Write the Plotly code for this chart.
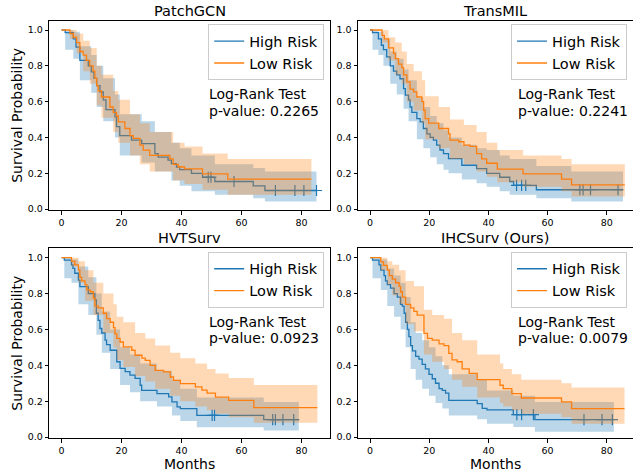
import plotly.graph_objects as go

# ---------------- data (months, survival probability) ----------------
titles = ["PatchGCN", "TransMIL", "HVTSurv", "IHCSurv (Ours)"]
p_values = ["0.2265", "0.2241", "0.0923", "0.0079"]
series_names = ["High Risk", "Low Risk"]
x_ticks = [0, 20, 40, 60, 80]
y_ticks = [0.0, 0.2, 0.4, 0.6, 0.8, 1.0]

# PatchGCN
pg_high_t = [0, 1.2, 3.9, 4.8, 6.1, 8.9, 9.9, 10.8, 11.7, 12.8, 13.9, 14.8, 17.8, 18.3, 19.4, 23.3, 26.7, 31.1, 32.2, 35.5, 36.6, 38.3, 39.4, 43.3, 47.0, 51.1, 63.9, 67.8, 85.0]
pg_high_s = [1.0, 0.985, 0.95, 0.905, 0.83, 0.80, 0.766, 0.73, 0.69, 0.654, 0.61, 0.555, 0.515, 0.46, 0.41, 0.385, 0.366, 0.31, 0.29, 0.273, 0.254, 0.235, 0.22, 0.20, 0.178, 0.154, 0.13, 0.104, 0.104]
pg_high_band_t = [0, 1.2, 3.9, 6.1, 9.9, 11.7, 13.9, 17.8, 19.4, 26.7, 31.1, 36.6, 39.4, 43.3, 51.1, 63.9, 67.8, 85.0]
pg_high_lo = [1.0, 0.89, 0.84, 0.72, 0.65, 0.57, 0.49, 0.40, 0.30, 0.26, 0.21, 0.16, 0.13, 0.10, 0.08, 0.06, 0.043, 0.043]
pg_high_up = [1.0, 1.0, 0.99, 0.91, 0.86, 0.80, 0.73, 0.64, 0.53, 0.49, 0.43, 0.37, 0.34, 0.30, 0.25, 0.23, 0.21, 0.21]
pg_high_cens = [48.9, 49.8, 57.5, 71.3, 77.8, 80.8, 85.0]
pg_low_t = [0, 2.8, 3.9, 5.0, 6.1, 7.2, 8.3, 9.4, 10.5, 11.1, 11.7, 12.2, 13.3, 16.1, 17.2, 18.3, 18.9, 21.1, 22.8, 23.9, 26.1, 27.2, 29.4, 36.1, 37.2, 38.9, 41.0, 47.0, 55.4, 83.3]
pg_low_s = [1.0, 0.98, 0.96, 0.93, 0.88, 0.86, 0.83, 0.80, 0.77, 0.73, 0.69, 0.66, 0.626, 0.57, 0.54, 0.52, 0.487, 0.45, 0.41, 0.395, 0.357, 0.329, 0.30, 0.28, 0.25, 0.235, 0.225, 0.197, 0.167, 0.167]
pg_low_band_t = [0, 2.8, 5.0, 7.2, 9.4, 11.7, 13.3, 17.2, 18.9, 22.8, 26.1, 29.4, 37.2, 41.0, 47.0, 55.4, 83.3]
pg_low_lo = [1.0, 0.95, 0.87, 0.77, 0.70, 0.58, 0.51, 0.43, 0.37, 0.30, 0.25, 0.21, 0.16, 0.14, 0.108, 0.08, 0.08]
pg_low_up = [1.0, 1.0, 0.98, 0.94, 0.90, 0.80, 0.75, 0.66, 0.61, 0.53, 0.48, 0.43, 0.37, 0.35, 0.31, 0.28, 0.28]
pg_low_cens = []

# TransMIL
tm_high_t = [0, 0.8, 2.8, 3.8, 4.5, 5.6, 6.8, 7.9, 9.0, 10.1, 11.3, 11.9, 13.0, 13.5, 14.1, 15.8, 16.9, 18.0, 19.2, 20.3, 21.4, 22.5, 23.6, 24.8, 26.5, 31.0, 36.0, 39.4, 43.8, 47.2, 48.5, 56.2, 85.5]
tm_high_s = [1.0, 0.985, 0.95, 0.915, 0.89, 0.85, 0.80, 0.77, 0.75, 0.728, 0.673, 0.636, 0.61, 0.57, 0.54, 0.505, 0.487, 0.45, 0.42, 0.40, 0.385, 0.357, 0.33, 0.31, 0.282, 0.245, 0.226, 0.20, 0.178, 0.154, 0.132, 0.108, 0.108]
tm_high_band_t = [0, 0.8, 2.8, 4.5, 6.8, 9.0, 11.3, 13.0, 15.8, 18.0, 20.3, 22.5, 24.8, 26.5, 31.0, 36.0, 39.4, 43.8, 47.2, 56.2, 68.0, 85.5]
tm_high_lo = [1.0, 0.89, 0.86, 0.80, 0.70, 0.64, 0.56, 0.49, 0.39, 0.34, 0.29, 0.25, 0.22, 0.20, 0.165, 0.145, 0.125, 0.10, 0.08, 0.06, 0.043, 0.043]
tm_high_up = [1.0, 1.0, 0.99, 0.95, 0.88, 0.84, 0.78, 0.72, 0.62, 0.57, 0.52, 0.48, 0.44, 0.40, 0.36, 0.34, 0.33, 0.30, 0.28, 0.24, 0.21, 0.21]
tm_high_cens = [49.5, 51.2, 52.6, 70.9, 72.0, 74.5, 83.8]
tm_low_t = [0, 4.0, 4.8, 6.2, 7.9, 8.5, 9.6, 10.7, 11.3, 12.4, 13.5, 14.7, 15.8, 17.5, 18.1, 18.6, 19.8, 23.2, 26.5, 27.0, 30.0, 31.7, 33.8, 36.0, 37.7, 39.4, 43.0, 51.7, 64.7, 68.1, 86.1]
tm_low_s = [1.0, 0.97, 0.95, 0.90, 0.87, 0.84, 0.81, 0.79, 0.75, 0.71, 0.67, 0.655, 0.626, 0.60, 0.552, 0.505, 0.48, 0.45, 0.42, 0.385, 0.376, 0.357, 0.35, 0.31, 0.28, 0.256, 0.223, 0.197, 0.167, 0.135, 0.135]
tm_low_band_t = [0, 4.0, 6.2, 8.5, 10.7, 12.4, 14.7, 17.5, 18.6, 23.2, 27.0, 31.7, 36.0, 39.4, 43.0, 51.7, 64.7, 68.1, 86.1]
tm_low_lo = [1.0, 0.93, 0.83, 0.75, 0.70, 0.60, 0.55, 0.48, 0.39, 0.34, 0.28, 0.25, 0.21, 0.18, 0.15, 0.125, 0.10, 0.07, 0.07]
tm_low_up = [1.0, 1.0, 0.96, 0.93, 0.88, 0.81, 0.77, 0.72, 0.63, 0.57, 0.50, 0.47, 0.43, 0.37, 0.33, 0.30, 0.28, 0.25, 0.25]
tm_low_cens = []

# HVTSurv
hv_high_t = [0, 0.9, 3.3, 3.8, 4.4, 5.6, 6.1, 8.9, 11.1, 11.6, 12.2, 12.8, 13.4, 14.5, 15.0, 16.2, 18.4, 19.5, 21.2, 22.8, 24.5, 26.2, 26.7, 31.8, 35.7, 36.8, 38.5, 39.6, 45.1, 67.4, 79.1]
hv_high_s = [1.0, 0.986, 0.96, 0.94, 0.913, 0.875, 0.838, 0.80, 0.764, 0.69, 0.65, 0.605, 0.58, 0.54, 0.515, 0.484, 0.42, 0.383, 0.365, 0.345, 0.327, 0.289, 0.26, 0.242, 0.224, 0.196, 0.168, 0.159, 0.121, 0.097, 0.097]
hv_high_band_t = [0, 0.9, 3.3, 5.6, 8.9, 11.6, 13.4, 16.2, 19.5, 22.8, 26.2, 31.8, 36.8, 39.6, 45.1, 67.4, 79.1]
hv_high_lo = [1.0, 0.885, 0.86, 0.74, 0.68, 0.57, 0.47, 0.38, 0.29, 0.25, 0.20, 0.17, 0.12, 0.09, 0.055, 0.037, 0.037]
hv_high_up = [1.0, 1.0, 0.99, 0.95, 0.89, 0.80, 0.70, 0.60, 0.50, 0.46, 0.41, 0.37, 0.32, 0.27, 0.22, 0.195, 0.195]
hv_high_cens = [50.2, 51.0, 70.4, 71.3, 73.8, 77.4]
hv_low_t = [0, 3.3, 4.4, 5.6, 6.1, 6.7, 7.8, 8.4, 9.5, 10.6, 11.1, 12.2, 13.9, 15.0, 16.2, 17.3, 17.8, 18.4, 19.5, 20.6, 23.4, 24.5, 26.8, 27.9, 29.5, 31.2, 34.0, 36.2, 37.3, 39.6, 44.6, 46.8, 48.5, 51.3, 55.7, 64.1, 85.3]
hv_low_s = [1.0, 0.98, 0.96, 0.93, 0.89, 0.87, 0.85, 0.82, 0.81, 0.775, 0.73, 0.72, 0.69, 0.66, 0.64, 0.61, 0.575, 0.55, 0.53, 0.503, 0.484, 0.456, 0.44, 0.428, 0.40, 0.372, 0.363, 0.335, 0.316, 0.298, 0.28, 0.262, 0.245, 0.223, 0.205, 0.164, 0.164]
hv_low_band_t = [0, 3.3, 5.6, 7.8, 10.6, 13.9, 17.3, 18.4, 20.6, 24.5, 27.9, 31.2, 36.2, 39.6, 44.6, 48.5, 51.3, 55.7, 64.1, 85.3]
hv_low_lo = [1.0, 0.95, 0.86, 0.76, 0.68, 0.58, 0.50, 0.43, 0.39, 0.34, 0.31, 0.27, 0.23, 0.20, 0.17, 0.15, 0.13, 0.11, 0.08, 0.08]
hv_low_up = [1.0, 1.0, 0.98, 0.93, 0.86, 0.80, 0.74, 0.67, 0.64, 0.58, 0.55, 0.51, 0.47, 0.44, 0.41, 0.38, 0.355, 0.33, 0.29, 0.29]
hv_low_cens = []

# IHCSurv (Ours)
ih_high_t = [0, 0.8, 3.0, 3.6, 4.7, 5.2, 5.8, 6.9, 8.1, 9.2, 10.3, 10.9, 11.5, 12.0, 12.6, 13.1, 13.7, 14.3, 15.4, 16.5, 17.6, 18.7, 19.9, 21.0, 22.1, 23.3, 24.4, 25.5, 26.6, 36.2, 37.9, 39.5, 48.4, 55.7, 82.4]
ih_high_s = [1.0, 0.986, 0.96, 0.93, 0.90, 0.87, 0.85, 0.83, 0.80, 0.78, 0.74, 0.73, 0.69, 0.64, 0.60, 0.56, 0.51, 0.48, 0.45, 0.435, 0.405, 0.38, 0.35, 0.325, 0.30, 0.27, 0.26, 0.245, 0.205, 0.186, 0.16, 0.152, 0.125, 0.097, 0.097]
ih_high_band_t = [0, 0.8, 3.6, 5.8, 8.1, 10.3, 12.0, 13.7, 15.4, 17.6, 19.9, 22.1, 24.4, 26.6, 36.2, 39.5, 48.4, 55.7, 82.4]
ih_high_lo = [1.0, 0.885, 0.82, 0.73, 0.67, 0.60, 0.50, 0.38, 0.32, 0.27, 0.23, 0.19, 0.16, 0.12, 0.10, 0.075, 0.056, 0.03, 0.03]
ih_high_up = [1.0, 1.0, 0.99, 0.94, 0.90, 0.86, 0.78, 0.64, 0.58, 0.54, 0.50, 0.45, 0.40, 0.35, 0.32, 0.26, 0.23, 0.196, 0.196]
ih_high_cens = [49.6, 51.2, 55.2, 72.3, 78.4, 81.9]
ih_low_t = [0, 3.6, 4.5, 5.8, 6.5, 7.5, 8.6, 9.8, 10.3, 10.9, 12.0, 13.7, 14.8, 15.9, 18.2, 19.4, 21.0, 23.3, 25.0, 26.6, 27.7, 29.4, 31.1, 33.5, 36.2, 43.9, 45.0, 47.9, 51.1, 64.7, 68.1, 86.0]
ih_low_s = [1.0, 0.976, 0.957, 0.93, 0.90, 0.88, 0.86, 0.84, 0.81, 0.78, 0.74, 0.72, 0.70, 0.68, 0.578, 0.55, 0.54, 0.52, 0.51, 0.466, 0.43, 0.42, 0.38, 0.355, 0.32, 0.289, 0.27, 0.242, 0.218, 0.196, 0.159, 0.159]
ih_low_band_t = [0, 3.6, 5.8, 7.5, 9.8, 12.0, 14.8, 18.2, 21.0, 25.0, 27.7, 31.1, 36.2, 43.9, 45.0, 47.9, 51.1, 64.7, 68.1, 86.0]
ih_low_lo = [1.0, 0.93, 0.85, 0.79, 0.74, 0.63, 0.59, 0.46, 0.42, 0.38, 0.32, 0.28, 0.22, 0.19, 0.17, 0.15, 0.13, 0.11, 0.075, 0.075]
ih_low_up = [1.0, 1.0, 0.98, 0.96, 0.93, 0.87, 0.84, 0.71, 0.68, 0.66, 0.58, 0.54, 0.46, 0.41, 0.38, 0.35, 0.32, 0.30, 0.276, 0.276]
ih_low_cens = []

panels_data = [
    [(pg_high_t, pg_high_s, pg_high_band_t, pg_high_lo, pg_high_up, pg_high_cens),
     (pg_low_t, pg_low_s, pg_low_band_t, pg_low_lo, pg_low_up, pg_low_cens)],
    [(tm_high_t, tm_high_s, tm_high_band_t, tm_high_lo, tm_high_up, tm_high_cens),
     (tm_low_t, tm_low_s, tm_low_band_t, tm_low_lo, tm_low_up, tm_low_cens)],
    [(hv_high_t, hv_high_s, hv_high_band_t, hv_high_lo, hv_high_up, hv_high_cens),
     (hv_low_t, hv_low_s, hv_low_band_t, hv_low_lo, hv_low_up, hv_low_cens)],
    [(ih_high_t, ih_high_s, ih_high_band_t, ih_high_lo, ih_high_up, ih_high_cens),
     (ih_low_t, ih_low_s, ih_low_band_t, ih_low_lo, ih_low_up, ih_low_cens)],
]

for panel in panels_data:
    for (t, s, bt, lo, up, c) in panel:
        assert len(t) == len(s), (len(t), len(s))
        assert len(bt) == len(lo) == len(up), (len(bt), len(lo), len(up))

# ---------------- style / layout ----------------
W, H = 633, 473
FONT = "DejaVu Sans"
colors = ["#1f77b4", "#ff7f0e"]
fills = ["rgba(31,119,180,0.3)", "rgba(255,127,14,0.3)"]

# subplot frames in pixels: (left, right, top, bottom)
frames = [(49.3, 329.7, 20.7, 210.0), (358.0, 632.5, 20.7, 210.0),
          (49.3, 329.7, 248.3, 438.0), (358.0, 632.5, 248.3, 438.0)]
x_ranges = [[-4.1, 89.4], [-4.1, 88.7], [-4.1, 89.4], [-4.1, 88.7]]
y_range = [-0.005, 1.052]


def px(xp):
    return xp / W


def py(yp):
    return 1 - yp / H


def step_at(ts, ss, t):
    v = ss[0]
    for ti, si in zip(ts, ss):
        if ti <= t:
            v = si
        else:
            break
    return v


fig = go.Figure()
legend_names = ["legend", "legend2", "legend3", "legend4"]

for k, panel in enumerate(panels_data):
    xa = "x" if k == 0 else f"x{k+1}"
    ya = "y" if k == 0 else f"y{k+1}"
    for g, (t, s, bt, lo, up, cens) in enumerate(panel):
        fig.add_trace(go.Scatter(x=bt, y=lo, mode="lines", line=dict(width=0, shape="hv"),
                                 xaxis=xa, yaxis=ya, showlegend=False, hoverinfo="skip"))
        fig.add_trace(go.Scatter(x=bt, y=up, mode="lines", line=dict(width=0, shape="hv"),
                                 fill="tonexty", fillcolor=fills[g],
                                 xaxis=xa, yaxis=ya, showlegend=False, hoverinfo="skip"))
        fig.add_trace(go.Scatter(x=t, y=s, mode="lines", name=series_names[g],
                                 line=dict(color=colors[g], width=1.3, shape="hv"),
                                 xaxis=xa, yaxis=ya, legend=legend_names[k]))
        if cens:
            fig.add_trace(go.Scatter(x=cens, y=[step_at(t, s, c) for c in cens], mode="markers",
                                     marker=dict(symbol="cross-thin", size=8, color=colors[g],
                                                 line=dict(color=colors[g], width=1.2)),
                                     xaxis=xa, yaxis=ya, showlegend=False, hoverinfo="skip"))

axis_common = dict(showline=True, mirror=True, linecolor="black", linewidth=1,
                   ticks="outside", ticklen=3.5, tickwidth=0.8, tickcolor="black",
                   tickfont=dict(family=FONT, size=9.5, color="black"),
                   showgrid=False, zeroline=False)

layout = dict(width=W, height=H, margin=dict(l=0, r=0, t=0, b=0, autoexpand=False),
              paper_bgcolor="white", plot_bgcolor="white",
              font=dict(family=FONT, color="black"))

annotations = []
for k in range(4):
    l, r, tp, bm = frames[k]
    xk = "xaxis" if k == 0 else f"xaxis{k+1}"
    yk = "yaxis" if k == 0 else f"yaxis{k+1}"
    xa = "x" if k == 0 else f"x{k+1}"
    ya = "y" if k == 0 else f"y{k+1}"
    layout[xk] = dict(domain=[px(l), px(r)], range=x_ranges[k], anchor=ya,
                      tickvals=x_ticks, ticktext=[str(v) for v in x_ticks], **axis_common)
    layout[yk] = dict(domain=[py(bm), py(tp)], range=y_range, anchor=xa,
                      tickvals=y_ticks, ticktext=[f"{v:.1f}" for v in y_ticks], **axis_common)
    # legend in upper right of each subplot
    layout[legend_names[k]] = dict(x=px(r - 5.5), y=py(tp + 3.5), xanchor="right", yanchor="top",
                                   bgcolor="rgba(255,255,255,0.8)", bordercolor="#cccccc",
                                   borderwidth=1, font=dict(family=FONT, size=14.5, color="black"),
                                   traceorder="normal")
    cx = (l + r) / 2
    # title
    annotations.append(dict(text=titles[k], x=px(cx), y=py(tp - 10.0), xref="paper", yref="paper",
                            xanchor="center", yanchor="middle", showarrow=False,
                            font=dict(family=FONT, size=14.5, color="black")))
    # log-rank text
    annotations.append(dict(text="Log-Rank Test", x=px(l + 158.0), y=py(tp + 73.5), xref="paper",
                            yref="paper", xanchor="left", yanchor="middle", showarrow=False,
                            font=dict(family=FONT, size=14, color="black")))
    annotations.append(dict(text=f"p-value: {p_values[k]}", x=px(l + 158.0), y=py(tp + 90.0),
                            xref="paper", yref="paper", xanchor="left", yanchor="middle",
                            showarrow=False, font=dict(family=FONT, size=14, color="black")))
    if k in (0, 2):
        annotations.append(dict(text="Survival Probability", x=px(17.5), y=py((tp + bm) / 2),
                                xref="paper", yref="paper", xanchor="center", yanchor="middle",
                                textangle=-90, showarrow=False,
                                font=dict(family=FONT, size=14, color="black")))
    if k in (2, 3):
        annotations.append(dict(text="Months", x=px(cx), y=py(463.8), xref="paper", yref="paper",
                                xanchor="center", yanchor="middle", showarrow=False,
                                font=dict(family=FONT, size=14, color="black")))

layout["annotations"] = annotations
fig.update_layout(**layout)
fig.write_html("out.html", config={"displayModeBar": False},
               post_script="document.body.style.margin='0px';document.body.style.overflow='hidden';")
